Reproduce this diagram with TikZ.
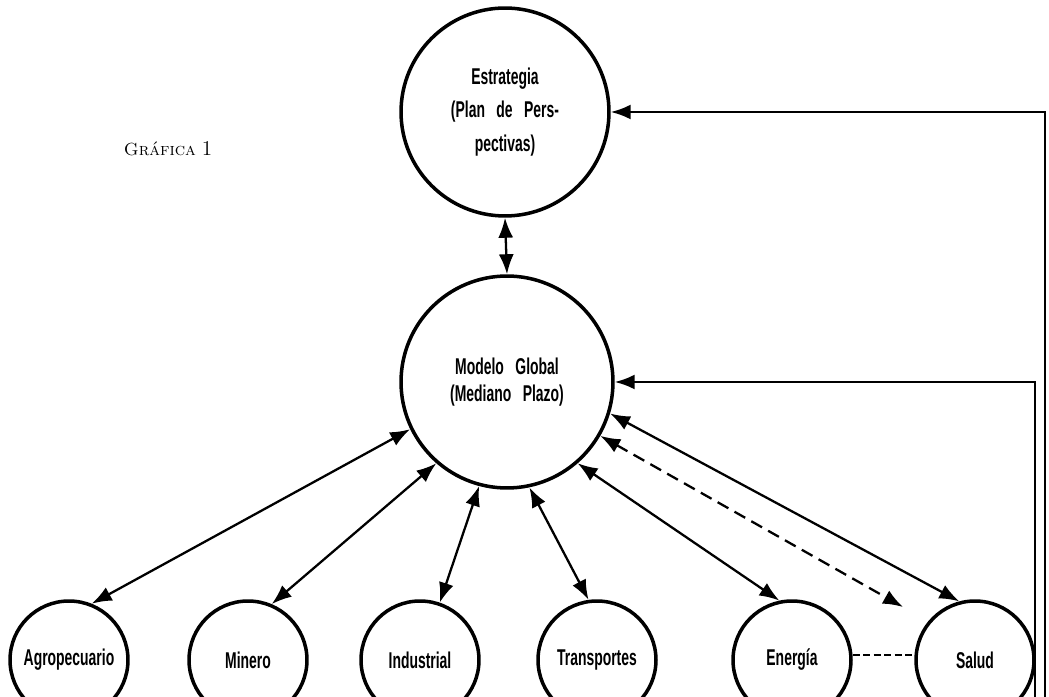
\documentclass[tikz,border=0pt]{standalone}
\usepackage{fontspec}
\usepackage{tikz}
\usetikzlibrary{arrows.meta}
\usetikzlibrary{positioning}
\newfontfamily\condfont[FakeStretch=0.61]{Liberation Sans Bold}

\tikzset{
  bigcircle/.style={circle, draw, line width=2pt, minimum size=4.2cm, inner sep=0pt,
    align=center, font=\condfont\fontsize{13}{15}\selectfont},
  sector/.style={circle, draw, line width=2pt, minimum size=2.36cm, inner sep=0pt,
    font=\condfont\fontsize{13}{15}\selectfont},
  link/.style={line width=1.3pt, {Latex[length=4mm,width=3mm]}-{Latex[length=4mm,width=3mm]}},
  feed/.style={line width=1.3pt, -{Latex[length=4mm,width=3mm]}},
}

\begin{document}
\begin{tikzpicture}[x=0.02cm,y=0.02cm]
\clip (0,0) rectangle (1049,697);

\node (titulo) at (168,548) {\textsc{Gráfica}~\large 1};

\node[bigcircle, minimum size=4.16cm] (estrategia) at (505,585)
  {Estrategia\\[4pt](Plan\enspace de\enspace Pers-\\[4pt]pectivas)};
\node[bigcircle, minimum size=4.24cm] (modelo) at (507,315)
  {Modelo\enspace Global\\(Mediano\enspace Plazo)};

\node[sector] (agro) at (69,37) {Agropecuario};
\node[sector] (minero) at (248,37) {Minero};
\node[sector] (industrial) at (420,37) {Industrial};
\node[sector] (transportes) at (597,37) {Transportes};
\node[sector] (energia) at (792,37) {Energía};
\node[sector] (salud) at (975,37) {Salud};

\coordinate (dashtip) at (903,90);
\coordinate (outerfoot) at (1045,0);
\coordinate (innerfoot) at (1035,0);

\draw[link] (estrategia.south) -- (modelo.north);
\draw[link] (modelo.206) -- (agro.68);
\draw[link] (modelo.229) -- (minero.67);
\draw[link] (modelo.255) -- (industrial.71);
\draw[link] (modelo.282) -- (transportes.98);
\draw[link] (modelo.311) -- (energia.102);
\draw[link] (modelo.343) -- (salud.105);
\draw[link, dash pattern=on 7pt off 4pt] (modelo.330) -- (dashtip);
\draw[line width=1.3pt, dash pattern=on 4pt off 2pt] (energia.5) -- (salud.175);

% retroalimentacion
\draw[feed] (outerfoot) |- (estrategia.east);
\draw[feed] (innerfoot) |- (modelo.east);
\end{tikzpicture}
\end{document}
